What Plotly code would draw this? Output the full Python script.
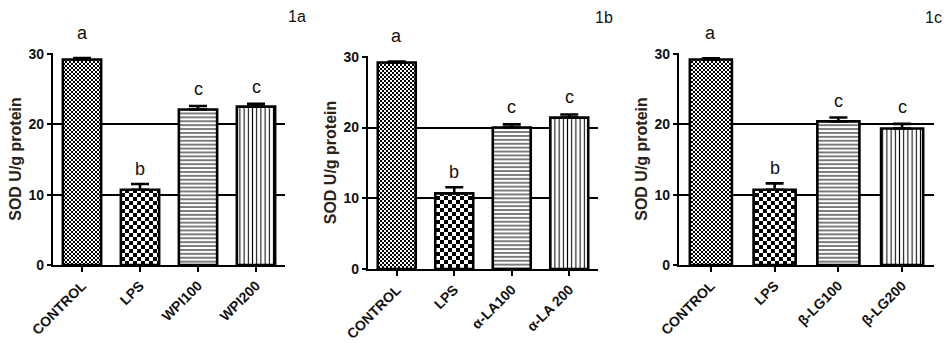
import plotly.graph_objects as go

# ---- data ----
groups_a = ["CONTROL", "LPS", "WPI100", "WPI200"]
sod_a = [29.2, 10.7, 22.1, 22.5]
err_a = [0.2, 0.8, 0.5, 0.4]

groups_b = ["CONTROL", "LPS", "α-LA100", "α-LA 200"]
sod_b = [29.2, 10.7, 20.0, 21.4]
err_b = [0.15, 0.85, 0.45, 0.45]

groups_c = ["CONTROL", "LPS", "β-LG100", "β-LG200"]
sod_c = [29.2, 10.7, 20.4, 19.4]
err_c = [0.15, 0.9, 0.55, 0.65]

letters = ["a", "b", "c", "c"]
panel_tags = ["1a", "1b", "1c"]
y_ticks = [0, 10, 20, 30]

# ---- styling ----
FONT = "Liberation Sans, Arial, sans-serif"
# per-bar fill patterns: fine checker, coarse checker, horizontal lines, vertical lines
pat_shape = ["", "", "-", "|"]
pat_path = ["M0,0H2V2H0Z M2,2H4V4H2Z", "M0,0H4V4H0Z M4,4H8V8H4Z", "", ""]
pat_size = [4, 8, 3.9, 4.2]
pat_solid = [0.5, 0.5, 0.26, 0.25]
letter_shift = {"a": 13, "b": 3, "c": 5}

W, H = 944, 344
# panel pixel boxes: (x_left, x_right, y_top(=30), y_bottom(=0))
boxes = [(53, 285, 53, 265), (368, 598, 56, 269), (679, 934, 53, 265)]
tag_pos = [(308, 17, "right"), (615, 18, "right"), (944, 18, "right")]

panels = [(groups_a, sod_a, err_a), (groups_b, sod_b, err_b), (groups_c, sod_c, err_c)]

fig = go.Figure()
annotations = []
for i, ((cats, vals, errs), box) in enumerate(zip(panels, boxes)):
    sfx = "" if i == 0 else str(i + 1)
    xl, xr, yt, yb = box
    for j in range(len(cats)):
        pattern = dict(fgcolor="black", bgcolor="white", fillmode="replace",
                       size=pat_size[j], solidity=pat_solid[j])
        if pat_path[j]:
            pattern["path"] = pat_path[j]
        else:
            pattern["shape"] = pat_shape[j]
        fig.add_trace(go.Bar(
            x=[cats[j]], y=[vals[j]], width=0.66,
            xaxis="x" + sfx, yaxis="y" + sfx,
            marker=dict(color="white", line=dict(color="black", width=2.6), pattern=pattern),
            error_y=dict(type="data", array=[errs[j]], arrayminus=[0], symmetric=False,
                         color="black", thickness=2.6, width=9),
            showlegend=False,
        ))
    xd = [xl / W, xr / W]
    yd = [(H - yb) / H, (H - yt) / H]
    common_x = dict(domain=xd, anchor="y" + sfx, showline=True, linewidth=2.2, linecolor="black",
                    ticks="outside", ticklen=5, tickwidth=1.5, tickcolor="black",
                    tickangle=-45, automargin=False,
                    tickfont=dict(family=FONT, size=14, color="#111", weight="bold"),
                    showgrid=False, zeroline=False, range=[-0.5, 3.5],
                    categoryorder="array", categoryarray=cats)
    common_y = dict(domain=yd, anchor="x" + sfx, range=[0, 30.12], tickvals=y_ticks,
                    showline=True, linewidth=2.2, linecolor="black", automargin=False,
                    ticks="outside", ticklen=4, tickwidth=2, tickcolor="black",
                    showgrid=True, gridcolor="black", gridwidth=2.2, zeroline=False,
                    tickfont=dict(family=FONT, size=14, color="#111", weight="bold"),
                    title=dict(text="SOD U/g protein", standoff=3,
                               font=dict(family=FONT, size=16, color="#2a2418", weight="bold")))
    fig.update_layout(**{"xaxis" + sfx: common_x, "yaxis" + sfx: common_y})
    for c, v, e, L in zip(cats, vals, errs, letters):
        annotations.append(dict(x=c, y=v + e, xref="x" + sfx, yref="y" + sfx, text=L,
                                showarrow=False, yanchor="bottom", yshift=letter_shift[L],
                                font=dict(family=FONT, size=18, color="#111")))
    tx, ty, anc = tag_pos[i]
    annotations.append(dict(x=tx / W, y=(H - ty) / H, xref="paper", yref="paper",
                            text=panel_tags[i], showarrow=False, xanchor=anc, yanchor="middle",
                            font=dict(family=FONT, size=16, color="#111")))

fig.update_layout(width=W, height=H, margin=dict(l=0, r=0, t=0, b=0),
                  plot_bgcolor="white", paper_bgcolor="white",
                  annotations=annotations, barmode="overlay")
fig.write_html("out.html")
